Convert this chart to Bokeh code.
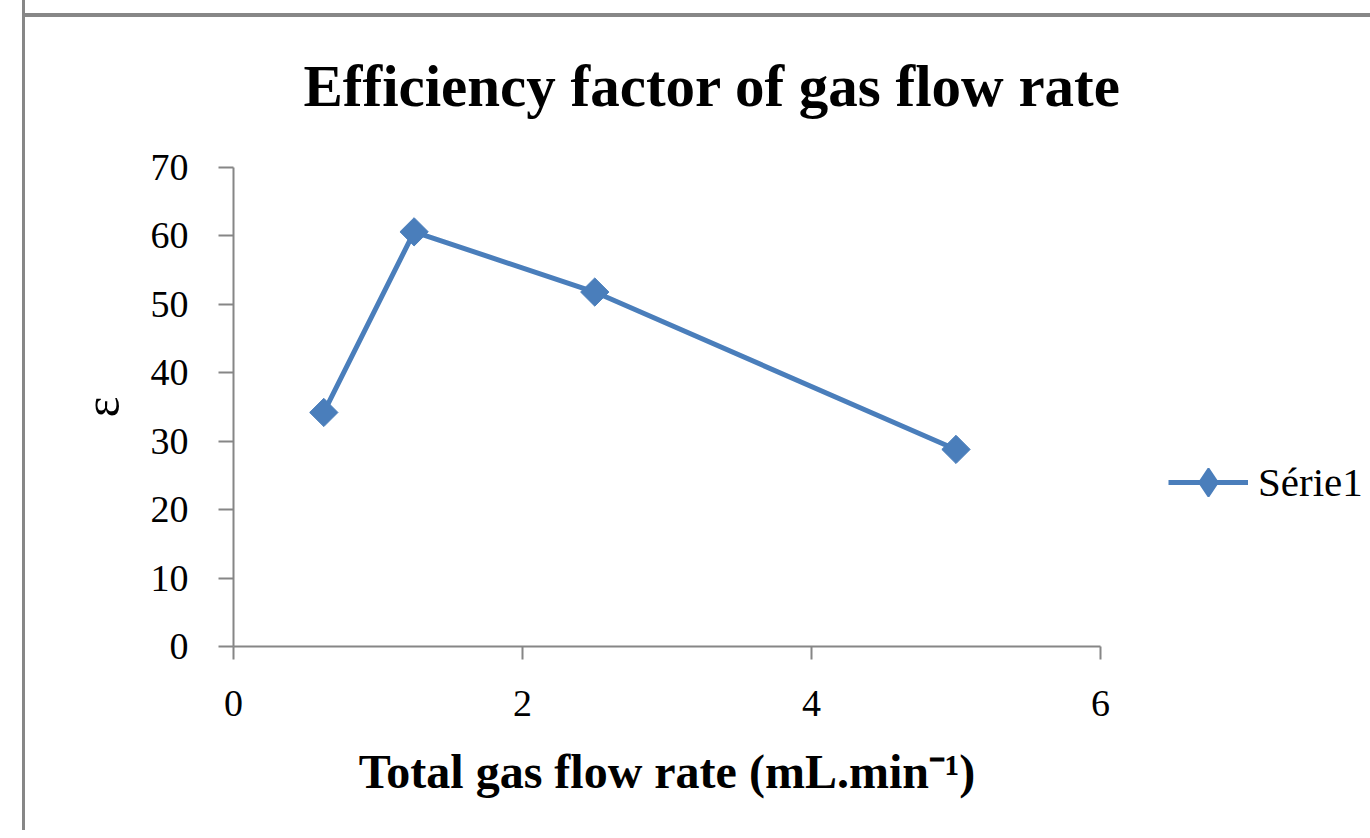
import numpy as np
from bokeh.plotting import figure
from bokeh.models import Range1d, FixedTicker, Legend, LegendItem, ColumnDataSource
from bokeh.embed import file_html
from bokeh.resources import INLINE

# ---- data ----
flow_rate = [0.625, 1.25, 2.5, 5.0]
efficiency = [34.2, 60.6, 51.8, 28.8]
x_ticks = [0, 2, 4, 6]
y_ticks = [0, 10, 20, 30, 40, 50, 60, 70]
series_name = "Série1"
title_text = "Efficiency factor of gas flow rate"
x_label = "Total gas flow rate (mL.min\u207b\u00b9)"
y_label = "\u03b5"

BLUE = "#4a7ebb"
GRAY = "#868686"
EDGE = "#878787"
SERIF = "Liberation Serif"

src = ColumnDataSource(dict(x=flow_rate, y=efficiency))

p = figure(output_backend="svg", toolbar_location=None,
           x_range=Range1d(0, 6), y_range=Range1d(0, 70),
           frame_width=867, frame_height=479,
           min_border_left=233, min_border_right=262,
           min_border_top=167, min_border_bottom=184,
           background_fill_color="white", border_fill_alpha=0,
           title=title_text)
# gray top/left edges of the embedded chart object (drawn behind the transparent canvas)
p.styles = {
    "background-color": "white",
    "box-shadow": ("inset 22px 0px 0px 0px white, inset 25px 0px 0px 0px " + EDGE +
                   ", inset 0px 13px 0px 0px white, inset 0px 17px 0px 0px " + EDGE),
}
p.outline_line_color = None
p.xgrid.visible = False
p.ygrid.visible = False

p.title.align = "left"
p.title.offset = 70
p.title.standoff = 98
p.title.text_font = SERIF
p.title.text_font_style = "bold"
p.title.text_font_size = "59px"
p.title.text_color = "black"

for ax, ticks in ((p.xaxis[0], x_ticks), (p.yaxis[0], y_ticks)):
    ax.ticker = FixedTicker(ticks=ticks)
    ax.minor_tick_line_color = None
    ax.axis_line_color = GRAY
    ax.axis_line_width = 2
    ax.major_tick_line_color = GRAY
    ax.major_tick_line_width = 2
    ax.major_tick_in = 0
    ax.major_label_text_font = SERIF
    ax.major_label_text_font_size = "38px"
    ax.major_label_text_color = "black"

p.xaxis.bounds = (-0.1, 6)
p.yaxis.bounds = (-1.9, 70)
p.xaxis.major_tick_out = 13
p.yaxis.major_tick_out = 15
p.xaxis.major_label_standoff = 31
p.yaxis.major_label_standoff = 30

p.xaxis.axis_label = x_label
p.xaxis.axis_label_text_font = SERIF
p.xaxis.axis_label_text_font_style = "bold"
p.xaxis.axis_label_text_font_size = "48px"
p.xaxis.axis_label_text_color = "black"
p.xaxis.axis_label_standoff = 26

p.yaxis.axis_label = y_label
p.yaxis.axis_label_text_font = SERIF
p.yaxis.axis_label_text_font_style = "normal"
p.yaxis.axis_label_text_font_size = "50px"
p.yaxis.axis_label_text_color = "black"
p.yaxis.axis_label_standoff = 18

line_r = p.line("x", "y", source=src, line_color=BLUE, line_width=5)
pts_r = p.scatter("x", "y", source=src, marker="square", angle=np.pi / 4,
                  size=20, fill_color=BLUE, line_color=BLUE, line_width=1)

# legend key: a diamond renderer on an off-screen range (only its legend swatch shows)
p.extra_y_ranges = {"key": Range1d(1000, 1070)}
key_r = p.scatter("x", "y", source=src, y_range_name="key",
                  marker="diamond", fill_color=BLUE, line_color=BLUE, line_width=2)

legend = Legend(items=[LegendItem(label=series_name, renderers=[line_r, key_r])],
                location=(68, 129), padding=0, margin=0, spacing=0,
                glyph_width=80, glyph_height=70, label_standoff=10,
                label_text_font=SERIF, label_text_font_size="41px",
                label_text_color="black",
                border_line_alpha=0, background_fill_alpha=0)
p.add_layout(legend, "right")

open("out.html", "w").write(file_html(p, INLINE))
